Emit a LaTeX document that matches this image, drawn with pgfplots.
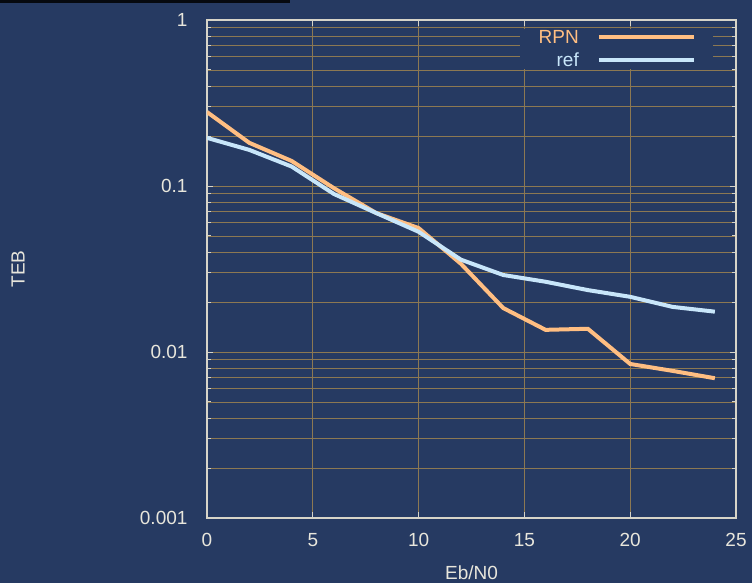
\documentclass[border=0pt]{standalone}
\usepackage{pgfplots}
\pgfplotsset{compat=1.18}
\usepackage{fontspec}
\setmainfont{Liberation Sans}
\definecolor{bg}{RGB}{38,58,98}
\definecolor{gridc}{RGB}{140,120,82}
\definecolor{framec}{RGB}{215,212,200}
\definecolor{txt}{RGB}{232,230,220}
\definecolor{rpn}{RGB}{255,190,130}
\definecolor{refc}{RGB}{200,230,250}
\begin{document}
\begin{tikzpicture}
\fill[bg] (0,0) rectangle (752bp,583bp);
\useasboundingbox (0,0) rectangle (752bp,583bp);
\fill[black!85!bg] (0,580bp) rectangle (290bp,583bp);
\begin{axis}[
  at={(207bp,65bp)}, anchor=south west,
  scale only axis, width=529bp, height=498bp,
  ymode=log,
  xmin=0, xmax=25, ymin=0.001, ymax=1,
  xtick={0,5,10,15,20,25},
  xticklabels={0,5,10,15,20,25},
  ytick={0.001,0.01,0.1,1},
  yticklabels={0.001,0.01,0.1,1},
  font=\fontsize{19bp}{23bp}\selectfont,
  ticklabel style={text=txt},
  xticklabel style={yshift=-12bp},
  yticklabel style={xshift=-16bp},
  tick align=inside,
  major tick length=6bp, minor tick length=4bp,
  every tick/.style={framec, line width=1bp},
  axis line style={framec, line width=1.5bp},
  xmajorgrids, ymajorgrids, yminorgrids,
  grid style={gridc, line width=0.9bp},
  minor grid style={gridc, line width=0.9bp},
  xlabel={Eb/N0}, ylabel={TEB},
  label style={text=txt},
  xlabel style={at={(axis description cs:0.5,-0.11)}, anchor=center},
  ylabel style={at={(axis description cs:-0.357,0.5)}, anchor=center},
  legend plot pos=right,
  legend cell align=right,
  legend image code/.code={\draw[#1] (0bp,0bp) -- (95bp,0bp);},
  legend style={at={(rel axis cs:0.9565,0.983)}, anchor=north east,
    draw=none, fill=bg, font=\fontsize{19bp}{23bp}\selectfont,
    nodes={inner ysep=0.5bp},
    inner xsep=17bp, inner ysep=1bp, row sep=7bp, column sep=16bp},
]
\addplot[rpn, line width=4bp] coordinates {
(0,0.279) (2,0.182) (4,0.1415) (6,0.097) (8,0.0687) (10,0.0558)
(12,0.034) (14,0.0184) (16,0.0136) (18,0.0138) (20,0.00847) (22,0.0077) (24,0.00695)};
\addlegendentry[text=rpn]{RPN}
\addplot[refc, line width=4bp] coordinates {
(0,0.195) (2,0.165) (4,0.131) (6,0.0895) (8,0.0687) (10,0.053)
(12,0.036) (14,0.0291) (16,0.0265) (18,0.0236) (20,0.0215) (22,0.0187) (24,0.0175)};
\addlegendentry[text=refc]{ref}
\end{axis}
\end{tikzpicture}
\end{document}
